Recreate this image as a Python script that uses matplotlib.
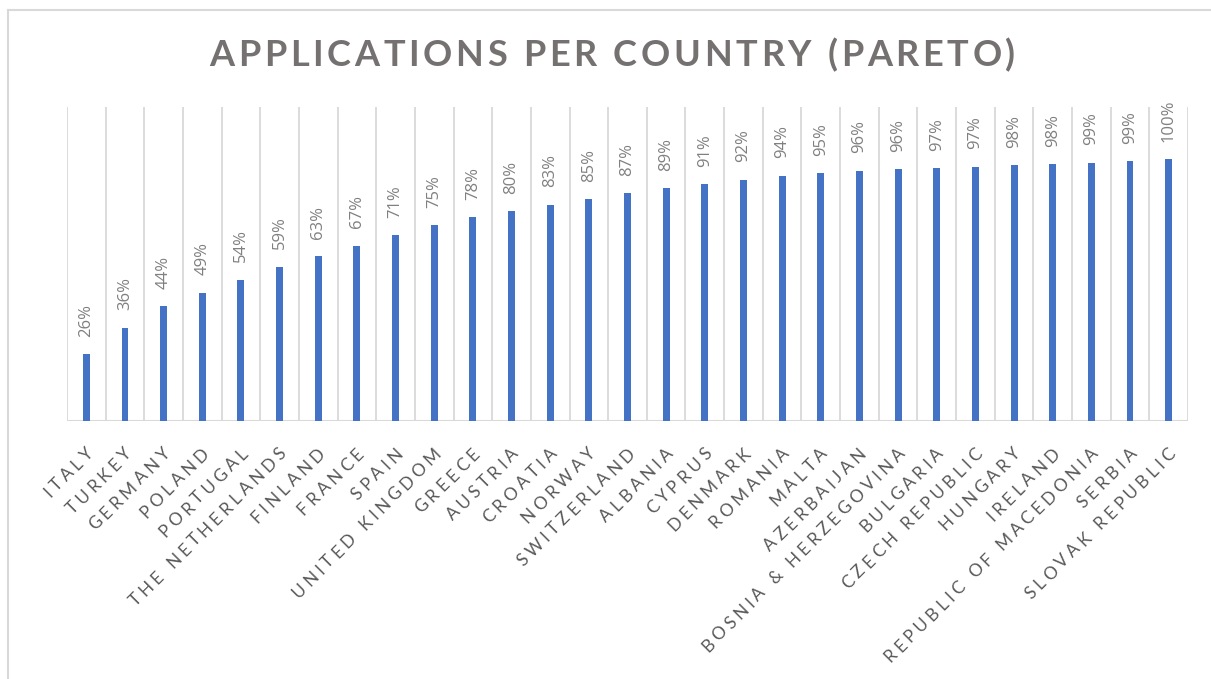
import math
import matplotlib
matplotlib.use("Agg")
import matplotlib.pyplot as plt
from matplotlib.lines import Line2D
from matplotlib.font_manager import FontProperties, findfont
from matplotlib.ft2font import FT2Font

categories = ["ITALY", "TURKEY", "GERMANY", "POLAND", "PORTUGAL", "THE NETHERLANDS",
              "FINLAND", "FRANCE", "SPAIN", "UNITED KINGDOM", "GREECE", "AUSTRIA",
              "CROATIA", "NORWAY", "SWITZERLAND", "ALBANIA", "CYPRUS", "DENMARK",
              "ROMANIA", "MALTA", "AZERBAIJAN", "BOSNIA & HERZEGOVINA", "BULGARIA",
              "CZECH REPUBLIC", "HUNGARY", "IRELAND", "REPUBLIC OF MACEDONIA",
              "SERBIA", "SLOVAK REPUBLIC"]
cumulative = [0.255, 0.357, 0.438, 0.490, 0.540, 0.590, 0.630, 0.670, 0.709, 0.748,
              0.780, 0.803, 0.827, 0.848, 0.870, 0.889, 0.906, 0.922, 0.937, 0.948,
              0.957, 0.962, 0.967, 0.972, 0.977, 0.982, 0.987, 0.992, 1.000]
title = "APPLICATIONS PER COUNTRY (PARETO)"

DPI = 100
W, H = 1211, 679
PT = 72.0 / DPI


def advances(text, prop, size_pt):
    f = FT2Font(findfont(prop))
    f.set_size(size_pt, DPI)
    return [f.load_char(ord(ch)).linearHoriAdvance / 65536.0 for ch in text]


def tracked_len(text, prop, size_pt, tracking):
    adv = advances(text, prop, size_pt)
    return sum(adv) + tracking * (len(text) - 1)


def draw_tracked(ax, text, xy, xycoords, end_px, angle, size_pt, tracking, prop,
                 color, align="right"):
    adv = advances(text, prop, size_pt)
    L = sum(adv) + tracking * (len(text) - 1)
    dx, dy = math.cos(math.radians(angle)), math.sin(math.radians(angle))
    if align == "right":
        sx, sy = end_px[0] - L * dx, end_px[1] - L * dy
    else:
        sx, sy = end_px[0] - L / 2 * dx, end_px[1] - L / 2 * dy
    pos = 0.0
    for ch, a in zip(text, adv):
        if ch != " ":
            ax.annotate(ch, xy=xy, xycoords=xycoords,
                        xytext=((sx + pos * dx) * PT, (sy + pos * dy) * PT),
                        textcoords="offset points", rotation=angle,
                        rotation_mode="anchor", ha="left", va="baseline",
                        fontproperties=prop, fontsize=size_pt, color=color,
                        annotation_clip=False)
        pos += a + tracking


fig = plt.figure(figsize=(W / DPI, H / DPI), dpi=DPI)
ax = fig.add_axes([67 / W, 1 - 421 / H, (1188 - 67) / W, (421 - 107) / H])

x = list(range(len(categories)))
ax.bar(x, cumulative, width=0.18, color="#4472C4", zorder=3)

ax.set_xlim(-0.5, len(categories) - 0.5)
ax.set_ylim(0, 1.2)

grid_c = "#D9D9D9"
for b in range(len(categories) + 1):
    ax.axvline(b - 0.5, color=grid_c, lw=1.3, zorder=1)
ax.axhline(0, color=grid_c, lw=1.5, zorder=2)

for s in ax.spines.values():
    s.set_visible(False)
ax.set_yticks([])
ax.set_xticks([])

# category labels, letter-spaced, rotated 45 degrees
lab_prop = FontProperties(family="Lato")
lab_size = 12.5
ref_label = "REPUBLIC OF MACEDONIA"
nat = tracked_len(ref_label, lab_prop, lab_size, 0.0)
lab_track = (295.0 - nat) / (len(ref_label) - 1)
cap_h = 0.7165 * lab_size / PT
h45 = cap_h * math.sqrt(0.5)
for xi, lab in zip(x, categories):
    draw_tracked(ax, lab, (xi, 0), "data", (h45 - 1, -25 - h45), 45, lab_size,
                 lab_track, lab_prop, "#595959", align="right")

# data labels
for xi, v in zip(x, cumulative):
    ax.annotate(f"{round(v * 100)}%", xy=(xi, v), xytext=(0, 12.5), textcoords="offset points",
                rotation=90, ha="center", va="bottom", fontsize=12, color="#808080",
                family=["Open Sans", "DejaVu Sans"])

# title, letter-spaced
title_prop = FontProperties(family="Lato", weight="bold")
title_size = 26.0
tnat = tracked_len(title, title_prop, title_size, 0.0)
t_track = (806.0 - tnat) / (len(title) - 1)
tax = fig.add_axes([0, 0, 1, 1], facecolor="none")
tax.set_axis_off()
tax.set_xlim(0, W)
tax.set_ylim(H, 0)
draw_tracked(tax, title, (612, 66), "data", (0, 0), 0, title_size, t_track,
             title_prop, "#757171", align="center")

# chart border (left and top visible)
bc = "#D9D9D9"
fig.add_artist(Line2D([8 / W, 8 / W], [0, 1 - 10 / H], transform=fig.transFigure, color=bc, lw=1.5))
fig.add_artist(Line2D([8 / W, 1], [1 - 10 / H, 1 - 10 / H], transform=fig.transFigure, color=bc, lw=1.5))

fig.savefig("out.png", dpi=DPI, facecolor="white")
